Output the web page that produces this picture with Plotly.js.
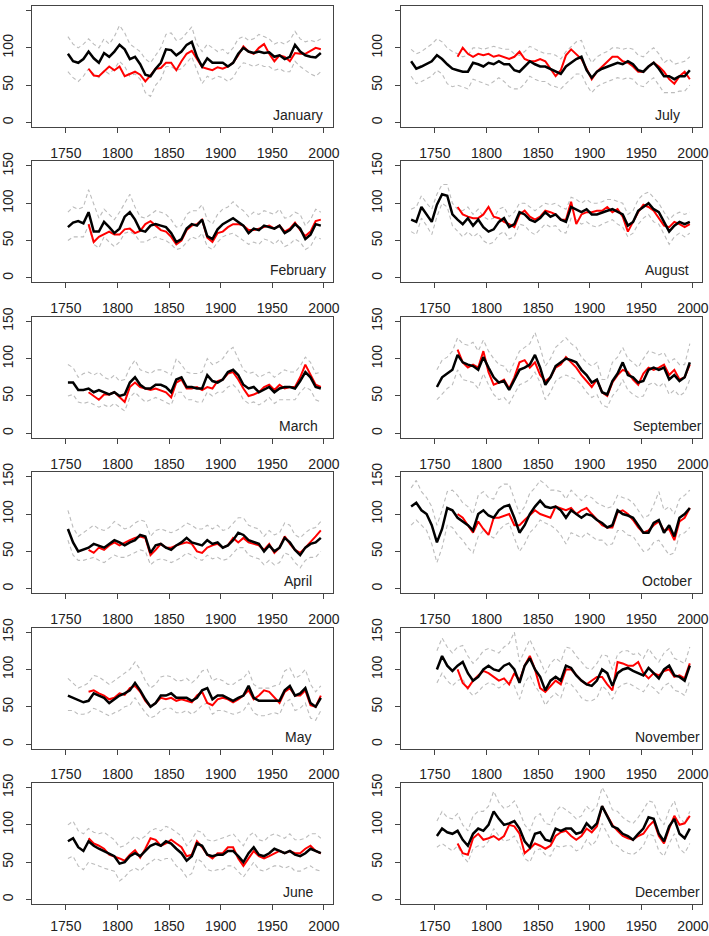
<!DOCTYPE html>
<html><head><meta charset="utf-8">
<script src="https://cdn.plot.ly/plotly-3.0.1.min.js"></script>
<style>html,body{margin:0;padding:0;background:#fff;} #chart{width:709px;height:936px;}</style>
</head><body><div id="chart"></div>
<script>
const yearsLong = [1727,1732,1737,1742,1747,1752,1757,1762,1767,1772,1777,1782,1787,1792,1797,1802,1807,1812,1817,1822,1827,1832,1837,1842,1847,1852,1857,1862,1867,1872,1877,1882,1887,1892,1897,1902,1907,1912,1917,1922,1927,1932,1937,1942,1947,1952,1957,1962,1967,1972,1977,1982,1987,1992,1997];
const yearsShort = [1752,1757,1762,1767,1772,1777,1782,1787,1792,1797,1802,1807,1812,1817,1822,1827,1832,1837,1842,1847,1852,1857,1862,1867,1872,1877,1882,1887,1892,1897,1902,1907,1912,1917,1922,1927,1932,1937,1942,1947,1952,1957,1962,1967,1972,1977,1982,1987,1992,1997];
const yearsRed = [1772,1777,1782,1787,1792,1797,1802,1807,1812,1817,1822,1827,1832,1837,1842,1847,1852,1857,1862,1867,1872,1877,1882,1887,1892,1897,1902,1907,1912,1917,1922,1927,1932,1937,1942,1947,1952,1957,1962,1967,1972,1977,1982,1987,1992,1997];

const monthNames = ["January","February","March","April","May","June","July","August","September","October","November","December"];
const xTickVals = [1750,1800,1850,1900,1950,2000];
const yTickVals = [0,50,100,150];

// January
const janBlack = [92,82,80,85,95,86,80,93,88,95,104,98,85,88,78,64,62,72,80,98,97,90,95,104,108,88,75,86,80,80,80,75,80,92,100,95,93,95,93,94,88,90,85,88,104,95,90,88,87,93];
const janRed = [72,63,62,68,75,70,75,62,65,68,64,55,63,72,73,80,80,70,82,92,96,85,74,72,70,74,72,75,80,90,102,95,92,100,105,92,82,90,88,82,93,92,92,96,100,98];
const janUpper = [115,105,100,105,112,105,100,112,105,115,130,120,105,100,95,85,80,90,100,118,120,110,112,120,128,105,95,105,100,95,98,92,100,112,115,110,112,118,115,112,105,108,105,110,122,112,108,110,108,112];
const janLower = [68,60,55,62,72,65,60,70,65,72,82,75,62,65,58,40,35,50,58,75,75,70,72,80,88,70,52,62,58,62,60,55,60,72,80,78,75,78,75,75,70,72,68,68,82,75,70,65,62,68];
// February
const febBlack = [68,74,76,73,88,62,62,75,68,60,66,82,88,78,64,62,70,72,70,68,60,48,52,66,72,70,78,56,52,65,72,76,80,75,70,60,66,64,70,68,66,70,60,64,72,66,52,58,72,70];
const febRed = [72,48,55,58,62,58,58,65,66,60,63,72,76,70,64,62,55,45,50,64,70,72,78,54,48,60,62,68,72,72,70,64,64,66,68,70,66,70,62,66,74,64,56,62,76,78];
const febUpper = [88,95,92,95,118,100,80,92,85,78,88,100,112,95,82,80,85,90,88,85,78,68,70,85,90,90,98,78,72,85,92,95,102,95,90,82,88,85,90,88,85,92,80,82,88,85,70,78,92,88];
const febLower = [50,55,55,55,70,45,40,55,48,42,48,60,62,58,48,48,52,55,52,50,45,38,40,48,55,52,60,42,38,48,55,58,60,55,50,45,48,45,52,50,45,52,42,45,52,48,38,42,55,52];
// March
const marBlack = [68,68,58,58,60,55,58,55,52,55,50,52,68,75,65,60,60,65,65,62,55,72,75,62,62,60,60,78,70,68,72,82,85,78,65,60,62,55,58,62,55,60,62,62,60,70,82,75,62,60];
const marRed = [55,50,45,52,52,55,48,42,62,68,62,60,58,60,58,55,48,68,72,60,60,62,58,62,60,70,72,80,82,72,60,50,52,55,62,65,58,65,60,62,62,75,92,78,65,62];
const marUpper = [92,88,75,80,82,78,82,75,72,78,70,72,88,98,85,82,80,85,85,82,78,100,92,82,80,80,82,100,92,95,100,110,115,100,85,80,82,75,78,82,75,80,85,82,82,90,102,95,80,82];
const marLower = [50,52,42,40,42,38,35,38,35,40,35,30,48,55,48,42,45,48,45,42,38,55,55,45,45,42,42,55,50,55,55,62,65,58,45,40,42,38,42,48,40,45,45,45,45,55,62,58,45,42];
// April
const aprBlack = [80,62,50,52,55,60,58,55,60,65,62,58,62,65,72,70,48,58,60,55,52,58,62,68,62,60,58,65,60,62,55,58,65,75,72,65,62,60,50,58,50,55,68,62,52,45,55,60,62,68];
const aprRed = [52,48,55,52,58,62,58,62,65,68,70,68,45,52,60,55,55,58,60,62,60,50,48,55,58,60,55,58,68,62,68,62,60,58,52,60,48,55,70,60,52,48,55,62,70,78];
const aprUpper = [105,82,70,75,80,85,80,78,82,90,85,80,82,88,92,90,70,78,80,78,75,78,82,88,85,80,80,85,80,85,78,80,88,95,95,85,82,80,70,78,72,75,88,85,72,68,75,80,82,90];
const aprLower = [65,45,38,38,40,42,38,35,40,45,42,42,45,48,52,50,32,38,40,38,35,38,42,48,45,40,38,45,40,42,38,40,48,55,55,45,42,40,32,38,32,35,48,45,35,28,38,42,42,50];
// May
const mayBlack = [65,62,58,56,58,68,65,62,55,60,65,68,72,82,72,60,50,55,65,65,68,62,62,62,58,62,72,75,60,65,65,62,58,62,65,78,62,58,58,58,58,58,72,78,65,68,75,55,50,62];
const mayRed = [70,72,68,65,60,62,68,66,75,78,70,58,50,55,62,60,62,58,60,58,56,65,70,55,52,60,62,60,56,60,65,72,60,65,72,70,62,55,70,75,65,65,72,52,50,65];
const mayUpper = [88,82,75,78,82,92,90,85,80,85,90,95,100,110,100,85,75,80,90,92,90,85,85,88,82,88,98,100,85,88,85,80,80,85,88,98,80,75,75,75,78,80,98,102,88,92,100,80,70,78];
const mayLower = [45,45,40,40,42,48,45,42,38,42,45,50,52,62,52,42,35,38,45,48,48,42,42,45,40,45,52,55,40,45,45,42,40,42,45,55,42,38,38,40,42,40,55,60,45,48,55,35,32,45];
// June
const junBlack = [78,82,70,65,78,72,68,65,62,58,48,50,58,62,58,65,72,75,72,78,75,68,62,52,58,75,72,60,58,60,60,65,65,58,50,62,70,60,58,62,68,65,62,65,60,58,62,68,65,62];
const junRed = [82,75,72,68,60,58,55,52,60,66,56,68,82,80,72,75,80,75,70,58,60,78,70,60,55,62,62,70,70,55,45,55,65,58,55,58,62,65,62,65,62,62,68,72,65,62];
const junUpper = [100,105,92,88,95,90,88,90,85,80,70,72,78,85,80,85,92,95,92,98,95,90,85,72,80,92,90,80,78,80,82,85,88,80,72,85,90,80,78,85,88,85,82,88,80,80,82,88,88,82];
const junLower = [55,58,45,40,50,48,45,42,40,38,25,30,38,42,38,45,50,55,52,55,55,45,40,30,35,55,50,40,38,40,40,45,45,38,30,40,50,40,38,42,45,45,42,45,38,38,42,45,40,38];
// July
const julBlack = [82,72,75,78,82,90,85,78,72,70,68,68,80,78,75,80,78,82,78,78,70,68,75,82,78,75,75,72,68,65,75,80,85,88,70,60,68,72,75,78,80,78,82,78,70,68,75,80,72,62,62,58,62,62,70];
const julRed = [88,100,92,88,92,90,92,88,90,88,85,88,95,85,82,82,85,82,72,62,70,90,98,92,85,72,58,68,75,82,88,88,82,80,75,68,68,75,80,75,68,58,52,62,68,58];
const julUpper = [98,92,95,100,105,112,108,100,95,92,88,90,100,100,98,100,102,100,98,98,92,90,95,102,98,95,92,92,90,85,95,102,108,110,92,80,88,92,95,100,100,98,100,98,90,88,95,100,92,80,85,78,80,82,88];
const julLower = [62,52,55,58,62,70,65,52,48,50,48,45,58,55,52,50,55,60,55,48,45,45,52,62,58,55,55,50,48,45,52,58,65,65,50,40,48,52,55,58,60,58,60,58,50,48,55,60,50,40,40,40,42,42,50];
// August
const augBlack = [78,75,95,85,75,98,112,110,85,78,72,80,70,78,68,62,65,75,80,68,72,88,85,78,75,80,88,82,85,78,75,95,92,88,92,85,85,88,90,92,88,85,70,75,90,95,100,92,88,75,62,70,75,72,75];
const augRed = [95,85,82,80,80,85,95,82,80,75,72,68,85,90,82,78,82,90,88,85,78,78,102,72,85,88,88,90,90,95,88,92,82,62,75,88,98,95,90,80,70,68,75,72,68,72];
const augUpper = [92,95,110,100,92,112,125,125,100,92,90,95,85,92,82,78,80,92,95,82,88,100,100,95,90,95,100,98,100,95,92,108,105,100,105,100,100,102,105,105,102,100,85,90,105,112,115,108,100,88,78,85,88,85,88];
const augLower = [62,58,80,70,58,82,100,95,70,62,55,62,55,60,50,45,48,58,62,52,55,72,70,62,58,65,72,68,70,62,60,80,78,72,75,70,68,72,75,78,72,68,55,60,72,80,85,75,72,58,45,55,60,55,60];
// September
const sepBlack = [62,75,80,85,105,95,92,90,85,102,88,75,68,70,58,72,85,88,92,105,88,65,75,90,95,100,98,95,85,78,68,72,55,52,70,80,95,78,75,68,70,85,88,85,88,72,78,70,75,95];
const sepRed = [112,95,88,92,88,110,82,65,68,72,60,75,95,98,88,95,78,70,75,88,92,102,95,88,78,70,62,72,55,50,68,78,85,82,72,65,80,88,85,88,92,78,85,72,75,92];
const sepUpper = [85,98,102,110,128,120,118,122,110,125,110,100,92,90,80,95,110,115,120,135,115,90,100,115,122,128,120,115,102,95,90,95,72,72,95,102,115,100,95,88,100,110,108,105,108,95,100,92,92,120];
const sepLower = [45,52,60,65,85,72,70,68,60,80,65,52,45,48,40,52,65,68,72,82,68,45,55,70,75,78,75,72,65,55,48,52,38,35,50,58,72,58,52,48,50,65,68,62,68,52,58,50,55,72];
// October
const octBlack = [110,115,105,100,85,62,80,108,105,95,90,85,78,100,105,98,95,105,110,112,95,75,85,100,110,118,110,108,110,105,95,105,100,95,100,98,92,88,82,85,105,100,98,95,85,75,75,88,92,75,85,70,95,100,108];
const octRed = [100,95,85,75,90,80,72,95,95,98,100,85,85,92,98,105,100,98,95,110,108,105,108,100,105,108,100,92,85,82,82,102,105,100,92,82,75,78,85,90,78,80,65,90,95,108];
const octUpper = [135,145,130,122,110,85,105,130,132,125,115,110,100,125,130,122,120,135,140,140,120,100,110,128,135,145,140,132,132,130,120,132,125,118,125,122,115,112,108,110,125,122,120,115,105,95,98,112,130,105,110,100,120,125,132];
const octLower = [85,92,85,78,60,35,55,85,82,72,65,55,48,70,78,72,68,78,85,88,68,50,60,75,82,92,88,85,80,72,60,75,72,68,75,70,65,65,58,60,78,78,72,70,60,50,52,62,65,55,45,48,72,75,82];
// November
const novBlack = [100,118,105,98,105,110,95,85,90,100,105,100,98,105,108,100,82,105,115,100,90,72,85,90,85,105,102,92,85,80,78,85,100,95,78,95,100,102,98,95,92,102,95,88,100,105,92,90,85,105];
const novRed = [100,82,75,85,92,98,95,90,85,88,80,95,85,105,118,100,75,70,78,85,80,100,100,92,85,80,85,90,90,80,72,110,108,105,105,110,95,88,95,92,98,100,90,92,88,108];
const novUpper = [125,142,130,122,130,132,118,108,115,125,128,125,122,130,135,150,110,125,140,125,112,95,108,115,110,130,128,118,110,102,100,108,120,118,100,120,125,125,120,122,115,128,118,110,122,128,115,112,108,130];
const novLower = [82,95,85,78,85,88,72,65,70,78,82,80,75,80,85,78,60,82,92,78,68,52,62,68,62,82,80,72,62,58,58,62,78,72,60,75,80,82,78,75,70,80,75,68,78,82,72,70,65,85];
// December
const decBlack = [85,95,90,88,92,80,72,88,95,92,100,118,108,100,102,105,95,78,70,88,90,80,78,95,92,95,95,88,90,102,95,102,125,112,98,95,88,85,80,88,95,110,108,88,78,98,108,88,82,95];
const decRed = [75,62,60,82,88,80,82,85,80,85,100,98,88,62,68,75,72,68,72,85,90,92,85,80,85,95,90,98,125,112,100,92,85,82,80,85,88,98,105,85,75,95,112,100,102,112];
const decUpper = [105,118,110,108,115,100,92,112,118,118,125,145,130,122,125,132,118,100,92,110,115,102,100,118,125,120,115,108,112,125,118,125,150,138,120,118,110,105,102,110,120,132,130,110,100,120,132,110,102,118];
const decLower = [70,75,70,65,72,58,50,68,72,70,78,95,85,78,80,85,72,55,50,65,68,60,58,72,70,72,72,65,68,80,72,80,102,88,75,72,65,62,60,65,72,88,85,65,58,75,88,68,62,75];

const blackSeries = [janBlack,febBlack,marBlack,aprBlack,mayBlack,junBlack,julBlack,augBlack,sepBlack,octBlack,novBlack,decBlack];
const redSeries = [janRed,febRed,marRed,aprRed,mayRed,junRed,julRed,augRed,sepRed,octRed,novRed,decRed];
const upperSeries = [janUpper,febUpper,marUpper,aprUpper,mayUpper,junUpper,julUpper,augUpper,sepUpper,octUpper,novUpper,decUpper];
const lowerSeries = [janLower,febLower,marLower,aprLower,mayLower,junLower,julLower,augLower,sepLower,octLower,novLower,decLower];

function yearsFor(arr){
  if (arr.length === yearsLong.length) return yearsLong;
  if (arr.length === yearsShort.length) return yearsShort;
  return yearsRed;
}

const W = 709, H = 936;
const FONT = '"Liberation Sans", Arial, Helvetica, sans-serif';
const colPx = [[32,333],[401,702]];
const traces = [];
const layout = {
  width: W, height: H,
  margin: {l:0, r:0, t:0, b:0},
  paper_bgcolor: '#fff', plot_bgcolor: '#fff',
  showlegend: false,
  font: {family: FONT, size: 14, color: '#222'},
  annotations: []
};

for (let p = 0; p < 12; p++) {
  const col = p < 6 ? 0 : 1;
  const row = p % 6;
  const n = p + 1;
  const xa = 'x' + (n === 1 ? '' : n);
  const ya = 'y' + (n === 1 ? '' : n);
  const top = 6 + 155.4 * row, bottom = 127 + 155.4 * row;
  layout['xaxis' + (n === 1 ? '' : n)] = {
    domain: [colPx[col][0] / W, colPx[col][1] / W],
    range: [1717.2, 2008.8], anchor: ya,
    tickvals: xTickVals, ticktext: xTickVals.map(String),
    ticks: 'outside', ticklen: 5, tickwidth: 1, tickcolor: '#444',
    showline: true, linecolor: '#444', linewidth: 1, mirror: true,
    showgrid: false, zeroline: false,
    tickfont: {family: FONT, size: 14, color: '#222'},
    ticklabelstandoff: row === 5 ? 4 : 8, fixedrange: true
  };
  layout['yaxis' + (n === 1 ? '' : n)] = {
    domain: [1 - bottom / H, 1 - top / H],
    range: [-6, 156], anchor: xa,
    tickvals: yTickVals, ticktext: yTickVals.map(String), tickangle: -90,
    ticks: 'outside', ticklen: 5, tickwidth: 1, tickcolor: '#444',
    showline: true, linecolor: '#444', linewidth: 1, mirror: true,
    showgrid: false, zeroline: false,
    tickfont: {family: FONT, size: 14, color: '#222'},
    ticklabelstandoff: 7, fixedrange: true
  };
  const common = {xaxis: xa, yaxis: ya, mode: 'lines', hoverinfo: 'skip'};
  traces.push(Object.assign({x: yearsFor(upperSeries[p]), y: upperSeries[p], line: {color: '#bcbcbc', width: 1.1, dash: '4px,3px'}}, common));
  traces.push(Object.assign({x: yearsFor(lowerSeries[p]), y: lowerSeries[p], line: {color: '#bcbcbc', width: 1.1, dash: '4px,3px'}}, common));
  traces.push(Object.assign({x: yearsFor(redSeries[p]), y: redSeries[p], line: {color: '#ff0000', width: 2}}, common));
  traces.push(Object.assign({x: yearsFor(blackSeries[p]), y: blackSeries[p], line: {color: '#000000', width: 2.5}}, common));
  layout.annotations.push({
    xref: xa, yref: ya, x: 1975, y: 10, text: monthNames[p],
    showarrow: false, xanchor: 'center', yanchor: 'middle',
    font: {family: FONT, size: 14, color: '#222'}
  });
}

Plotly.newPlot('chart', traces, layout, {staticPlot: true, displayModeBar: false});
</script>
</body></html>
